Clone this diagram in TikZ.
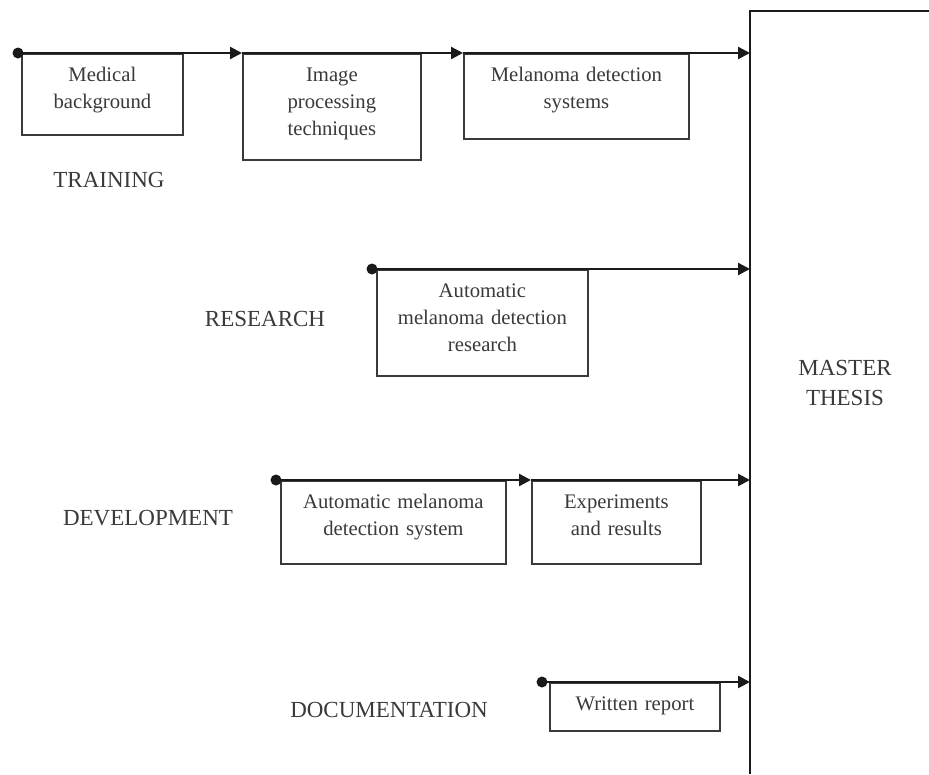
\documentclass[tikz,border=0pt]{standalone}
\usepackage{fontspec}
\setmainfont{Liberation Serif}
\usetikzlibrary{arrows.meta}
\definecolor{inkx}{HTML}{1A1A1A}
\definecolor{greyx}{HTML}{3A3A3A}
\tikzset{
  ar/.style={-{Triangle[length=12pt,width=12pt]},line width=2.4pt,inkx},
  box/.style={draw=greyx,line width=1.8pt,inner sep=0pt,anchor=north west,align=center,text=greyx,text height=28pt,font=\fontsize{20.7}{27}\selectfont},
  dot/.style={circle,fill=inkx,inner sep=0pt,minimum size=11pt},
  phase/.style={anchor=base,text=greyx,font=\fontsize{23}{30}\selectfont},
  wall/.style={line width=2.2pt,inkx}
}
\begin{document}
\begin{tikzpicture}[x=1pt,y=-1pt]
\useasboundingbox (0,0) rectangle (929,774);
\fill[white] (0,0) rectangle (929,774);
\coordinate (th) at (750,11);
\draw[wall] (929,11) -- (th) -- (750,774);
\node[phase,text width=150pt,align=center] (thesis) at (845,375) {MASTER\\THESIS};
\foreach \txt/\x/\y [count=\i] in {TRAINING/109/187,RESEARCH/265/326,DEVELOPMENT/148/525,DOCUMENTATION/389/717}
  {\node[phase] (ph\i) at (\x,\y) {\txt};}
\node[box,text width=161pt,text depth=53pt] (med) at (21,53) {Medical\\background};
\node[box,text width=178pt,text depth=78pt] (img) at (242,53) {Image\\processing\\techniques};
\node[box,text width=225pt,text depth=57pt] (mds) at (463,53) {Melanoma detection\\systems};
\node[box,text width=211pt,text depth=78pt] (amdr) at (376,269) {Automatic\\melanoma detection\\research};
\node[box,text width=225pt,text depth=55pt] (amds) at (280,480) {Automatic melanoma\\detection system};
\node[box,text width=169pt,text depth=55pt] (exp) at (531,480) {Experiments\\and results};
\node[box,text width=170pt,text depth=20pt] (wr) at (549,682) {Written report};
\foreach \x/\y [count=\i] in {18/53,372/269,276/480,542/682}
  {\node[dot] (s\i) at (\x,\y) {};}
\draw[ar] (s1.center) -- (img.north west);
\draw[ar] (img.north west) -- (mds.north west);
\draw[ar] (mds.north west) -- (mds.north west -| th);
\draw[ar] (s2.center) -- (s2.center -| th);
\draw[ar] (s3.center) -- (exp.north west);
\draw[ar] (exp.north west) -- (exp.north west -| th);
\draw[ar] (s4.center) -- (s4.center -| th);
\end{tikzpicture}
\end{document}
